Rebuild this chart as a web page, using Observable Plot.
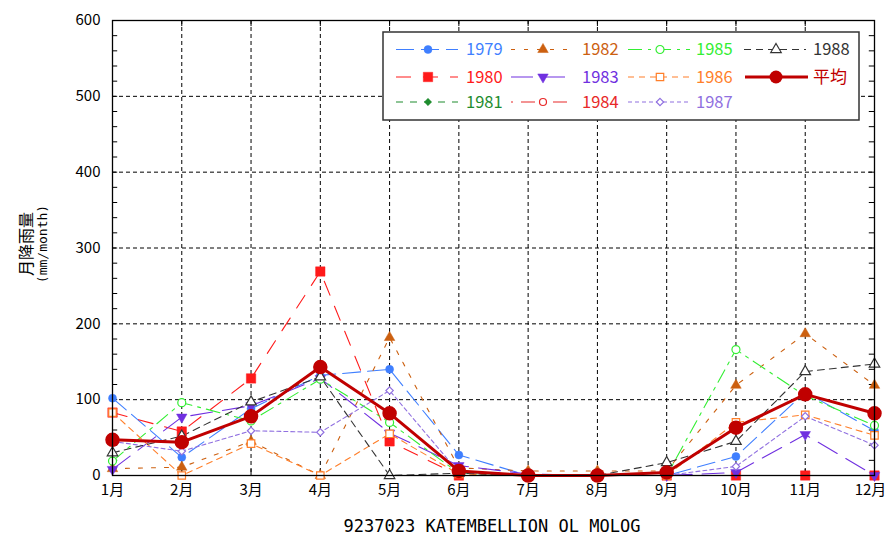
<!DOCTYPE html>
<html><head><meta charset="utf-8">
<script src="https://cdn.jsdelivr.net/npm/d3@7"></script>
<script src="https://cdn.jsdelivr.net/npm/@observablehq/plot@0.6"></script>
<style>
body{margin:0;background:#fff;}
#wrap{position:relative;width:887px;height:540px;overflow:hidden;background:#fff;}
#wrap svg{position:absolute;left:0;top:0;}
</style></head><body><div id="wrap"></div>
<script>
const months = ["1月","2月","3月","4月","5月","6月","7月","8月","9月","10月","11月","12月"];
const yTicks = [0,100,200,300,400,500,600];
const v1979 = [102, 24, 88, 132, 140, 27, 0, 0, 0, 25, 110, 59];
const v1980 = [83, 58, 128, 269, 45, 0, 0, 0, 0, 0, 0, 0];
const v1981 = [null,null,null,null,null,null,null,null,null,null,null,null];
const v1982 = [9, 11, 45, 0, 182, 10, 6, 6, 6, 119, 187, 119];
const v1983 = [8, 77, 92, 128, 56, 13, 2, 0, 0, 4, 54, 0];
const v1984 = [null,null,null,null,null,null,null,null,null,null,null,null];
const v1985 = [19, 96, 72, 127, 70, 3, 0, 0, 0, 166, 105, 66];
const v1986 = [83, 0, 42, 0, 55, 2, 0, 0, 0, 70, 80, 53];
const v1987 = [45, 32, 59, 57, 112, 4, 0, 0, 0, 12, 78, 40];
const v1988 = [30, 52, 97, 130, 0, 3, 0, 0, 17, 45, 137, 147];
const vMean = [47, 44, 78, 143, 82, 6, 0, 0, 4, 63, 107, 82];
const title = "9237023 KATEMBELLION OL MOLOG";
const yLabel1 = "月降雨量";
const yLabel2 = "(mm/month)";

const styles = [
  {name:"1979", values:v1979, color:"#3f7fff", dash:"18,7", symbol:"circle", open:false, r:4, rot:0},
  {name:"1980", values:v1980, color:"#ff1a1a", dash:"15,12", symbol:"square", open:false, r:5.3, rot:0},
  {name:"1981", values:v1981, color:"#1e8c2e", dash:"7,7", symbol:"diamond2", open:false, r:3.3, rot:0},
  {name:"1982", values:v1982, color:"#cc6010", dash:"4,9", symbol:"triangle", open:false, r:3.9, rot:0},
  {name:"1983", values:v1983, color:"#7030e0", dash:"22,10", symbol:"triangle", open:false, r:3.9, rot:180},
  {name:"1984", values:v1984, color:"#e82828", dash:"2,8,14,8", symbol:"circle", open:true, r:3.5, rot:0},
  {name:"1985", values:v1985, color:"#33ee33", dash:"14,6,3,6", symbol:"circle", open:true, r:4, rot:0},
  {name:"1986", values:v1986, color:"#ff7f2a", dash:"6,5", symbol:"square", open:true, r:4.2, rot:0},
  {name:"1987", values:v1987, color:"#9070e0", dash:"4,3", symbol:"diamond2", open:true, r:3.3, rot:0},
  {name:"1988", values:v1988, color:"#333333", dash:"7,5", symbol:"triangle", open:true, r:3.9, rot:0}
];
const meanStyle = {name:"平均", values:vMean, color:"#c00000"};

const rowsOf = (vals, name) => vals.map((v, i) => ({m: i + 1, v, name}));
const fontCJK = "'Noto Sans CJK JP', sans-serif";

const marks = [
  Plot.gridX(d3.range(2, 12), {stroke:"#000", strokeOpacity:1, strokeDasharray:"4,3", strokeWidth:1}),
  Plot.gridY([100,200,300,400,500], {stroke:"#000", strokeOpacity:1, strokeDasharray:"4,3", strokeWidth:1}),
  Plot.ruleX(d3.range(1, 13), {y1:0, y2:8, stroke:"#000"}),
  Plot.ruleX(d3.range(1, 13), {y1:592, y2:600, stroke:"#000"}),
  Plot.ruleY(d3.range(20, 600, 20), {x1:1, x2:1.075, stroke:"#000"}),
  Plot.ruleY(d3.range(20, 600, 20), {x1:11.925, x2:12, stroke:"#000"}),
  Plot.axisX(d3.range(1, 12), {tickFormat: i => months[i - 1], tickSize: 0, tickPadding: 9, label: null, fontSize: 15}),
  Plot.axisX([12], {tickFormat: i => months[i - 1], tickSize: 0, tickPadding: 9, label: null, fontSize: 15, dx: -4}),
  Plot.axisY(yTicks, {tickSize: 0, tickPadding: 12, label: null, fontSize: 15})
];
styles.forEach(s => {
  marks.push(Plot.line(rowsOf(s.values, s.name), {x:"m", y:"v", stroke:s.color, strokeWidth:1.1, strokeDasharray:s.dash}));
});
styles.forEach(s => {
  const data = rowsOf(s.values, s.name).filter(d => d.v != null);
  marks.push(Plot.dot(data, {x:"m", y:"v", symbol:s.symbol, r:s.r, rotate:s.rot,
    fill: s.open ? "#fff" : s.color, stroke:s.color, strokeWidth: s.open ? 1.2 : 0.5}));
});
marks.push(Plot.line(rowsOf(vMean, "平均"), {x:"m", y:"v", stroke:meanStyle.color, strokeWidth:3}));
marks.push(Plot.dot(rowsOf(vMean, "平均"), {x:"m", y:"v", r:6.5, fill:meanStyle.color, stroke:meanStyle.color}));
marks.push(Plot.frame({stroke:"#000", strokeWidth:1.3}));

const chart = Plot.plot({
  width: 887, height: 540,
  marginLeft: 112, marginRight: 13, marginTop: 20, marginBottom: 65,
  style: {fontFamily: fontCJK, fontSize: "15px", color: "#000", background: "transparent", overflow: "visible"},
  x: {type:"linear", domain:[1, 12], label: null},
  y: {domain:[0, 600], label: null},
  marks
});
document.getElementById("wrap").appendChild(chart);

// Overlay: legend, y label, title
const ov = d3.select("#wrap").append("svg").attr("width", 887).attr("height", 540)
  .style("pointer-events", "none");

ov.append("rect").attr("x", 383).attr("y", 32).attr("width", 476).attr("height", 88)
  .attr("fill", "#fff").attr("stroke", "#333").attr("stroke-width", 1.5);

const legendItems = [
  {s: styles[0], col: 0, row: 0}, {s: styles[1], col: 0, row: 1}, {s: styles[2], col: 0, row: 2},
  {s: styles[3], col: 1, row: 0}, {s: styles[4], col: 1, row: 1}, {s: styles[5], col: 1, row: 2},
  {s: styles[6], col: 2, row: 0}, {s: styles[7], col: 2, row: 1}, {s: styles[8], col: 2, row: 2},
  {s: styles[9], col: 3, row: 0}, {s: {name: meanStyle.name, color: meanStyle.color, mean: true}, col: 3, row: 1}
];
const colMarker = [428, 543, 660, 776];
const colLabel = [466, 582, 696, 813];
const rowY = [49.5, 77, 102];
const symMap = {circle: d3.symbolCircle, square: d3.symbolSquare, diamond2: d3.symbolDiamond2, triangle: d3.symbolTriangle};

legendItems.forEach(({s, col, row}) => {
  const cx = colMarker[col], cy = rowY[row];
  const g = ov.append("g");
  if (s.mean) {
    g.append("line").attr("x1", cx - 31).attr("x2", cx + 32).attr("y1", cy).attr("y2", cy)
      .attr("stroke", s.color).attr("stroke-width", 3);
    g.append("circle").attr("cx", cx).attr("cy", cy).attr("r", 6.5).attr("fill", s.color);
  } else {
    g.append("line").attr("x1", cx - 32).attr("x2", cx + 30).attr("y1", cy).attr("y2", cy)
      .attr("stroke", s.color).attr("stroke-width", 1.1).attr("stroke-dasharray", s.dash);
    g.append("path").attr("d", d3.symbol(symMap[s.symbol], s.r * s.r * Math.PI)())
      .attr("transform", `translate(${cx},${cy}) rotate(${s.rot})`)
      .attr("fill", s.open ? "#fff" : s.color).attr("stroke", s.color)
      .attr("stroke-width", s.open ? 1.2 : 0.5);
  }
  g.append("text").attr("x", colLabel[col]).attr("y", cy).attr("dy", "0.36em")
    .attr("fill", s.color)
    .style("font-family", fontCJK)
    .style("font-size", s.mean ? "17px" : "16.5px")
    .text(s.name);
});

const yl = ov.append("g").attr("transform", "translate(26,244) rotate(-90)");
yl.append("text").attr("text-anchor", "middle").attr("dy", "0.36em")
  .style("font-family", fontCJK).style("font-size", "16px")
  .text(yLabel1);
yl.append("text").attr("y", 16).attr("text-anchor", "middle").attr("dy", "0.36em")
  .style("font-family", "'DejaVu Sans Mono', monospace").style("font-size", "13px")
  .text(yLabel2);

ov.append("text").attr("x", 492).attr("y", 526).attr("text-anchor", "middle").attr("dy", "0.36em")
  .style("font-family", "'DejaVu Sans Mono', monospace").style("font-size", "17px")
  .text(title);
</script>
</body></html>
